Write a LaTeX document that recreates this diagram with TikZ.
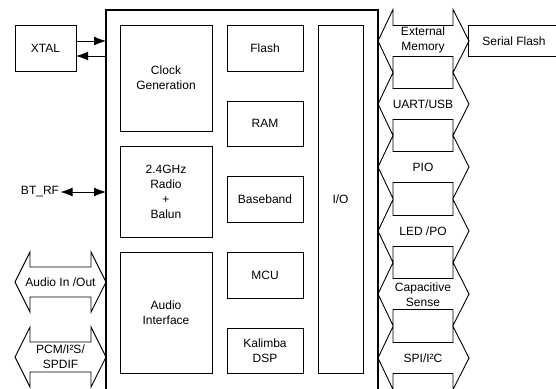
\documentclass[tikz,border=0pt]{standalone}
\usepackage{fontspec}
\setmainfont{Liberation Sans}
\usetikzlibrary{arrows.meta}
\tikzset{
  txt/.style={font=\fontsize{12}{15}\selectfont, align=center},
  blk/.style={draw, line width=0.9pt, inner sep=0pt, outer sep=0pt, txt},
  lbl/.style={inner sep=0pt, outer sep=0pt, txt},
  bus/.style={draw, line width=0.9pt, line join=miter},
  sig/.style={line width=1pt, -{Latex[length=12pt,width=9pt]}},
  dsig/.style={line width=1pt, {Latex[length=12pt,width=9pt]}-{Latex[length=12pt,width=9pt]}},
}
\newcommand\rbus[1]{\draw[bus] (378,#1) -- (393,#1-31.5) -- (393,#1-15.5) -- (453,#1-15.5) -- (453,#1-31.5) -- (469,#1) -- (453,#1+31.5) -- (453,#1+15.5) -- (393,#1+15.5) -- (393,#1+31.5) -- cycle;}
\newcommand\lbus[1]{\draw[bus] (15,#1) -- (30,#1-30) -- (30,#1-15) -- (91,#1-15) -- (91,#1-30) -- (106,#1) -- (91,#1+30) -- (91,#1+15) -- (30,#1+15) -- (30,#1+30) -- cycle;}
\begin{document}
\begin{tikzpicture}[x=1pt,y=-1pt]
\clip (0,0) rectangle (556,388);
% main chip outline
\node[draw, line width=1.7pt, inner sep=0pt, outer sep=0pt, minimum width=272pt, minimum height=400pt] (main) at (242,210) {};
% inner blocks
\node[blk, minimum width=92pt, minimum height=106pt] (clock) at (166,78) {Clock\\Generation};
\node[blk, minimum width=92pt, minimum height=91pt] (radio) at (166,191.5) {2.4GHz\\Radio\\+\\Balun};
\node[blk, minimum width=92pt, minimum height=121pt] (audio) at (166,312.5) {Audio\\Interface};
\node[blk, minimum width=76pt, minimum height=46pt] (flash) at (265,48) {Flash};
\node[blk, minimum width=76pt, minimum height=45pt] (ram) at (265,123.5) {RAM};
\node[blk, minimum width=76pt, minimum height=46pt] (base) at (265,199) {Baseband};
\node[blk, minimum width=76pt, minimum height=46pt] (mcu) at (265,275) {MCU};
\node[blk, minimum width=76pt, minimum height=45pt] (dsp) at (265,350.5) {Kalimba\\DSP};
\node[blk, minimum width=45pt, minimum height=348pt] (io) at (340.5,199) {I/O};
% external blocks
\node[blk, minimum width=61pt, minimum height=46pt] (xtal) at (45.5,48) {XTAL};
\node[blk, minimum width=92pt, minimum height=30.5pt] (sflash) at (514,41) {Serial Flash};
% XTAL and RF connectors
\draw[sig] ([yshift=7pt]xtal.east) -- ([yshift=7pt]xtal.east -| main.west);
\draw[sig] ([yshift=-8pt]xtal.east -| main.west) -- ([yshift=-8pt]xtal.east);
\node[lbl, anchor=east] (btrf) at (59,192) {BT\_RF};
\draw[dsig] ([xshift=1.5pt]btrf.east) -- (btrf.east -| main.west);
% right-side buses
\rbus{41}\rbus{104}\rbus{167}\rbus{231}\rbus{294}\rbus{358}
\node[lbl] (bem) at (423,40) {External\\Memory};
\node[lbl] (buart) at (423,104) {UART/USB};
\node[lbl] (bpio) at (423,167) {PIO};
\node[lbl] (bled) at (423,231) {LED /PO};
\node[lbl] (bcap) at (423,295) {Capacitive\\Sense};
\node[lbl] (bspi) at (423,358) {SPI/I²C};
% left-side buses
\lbus{282}\lbus{357}
\node[lbl] (baud) at (60.5,282) {Audio In /Out};
\node[lbl] (bpcm) at (60.5,357) {PCM/I²S/\\SPDIF};
\end{tikzpicture}
\end{document}
